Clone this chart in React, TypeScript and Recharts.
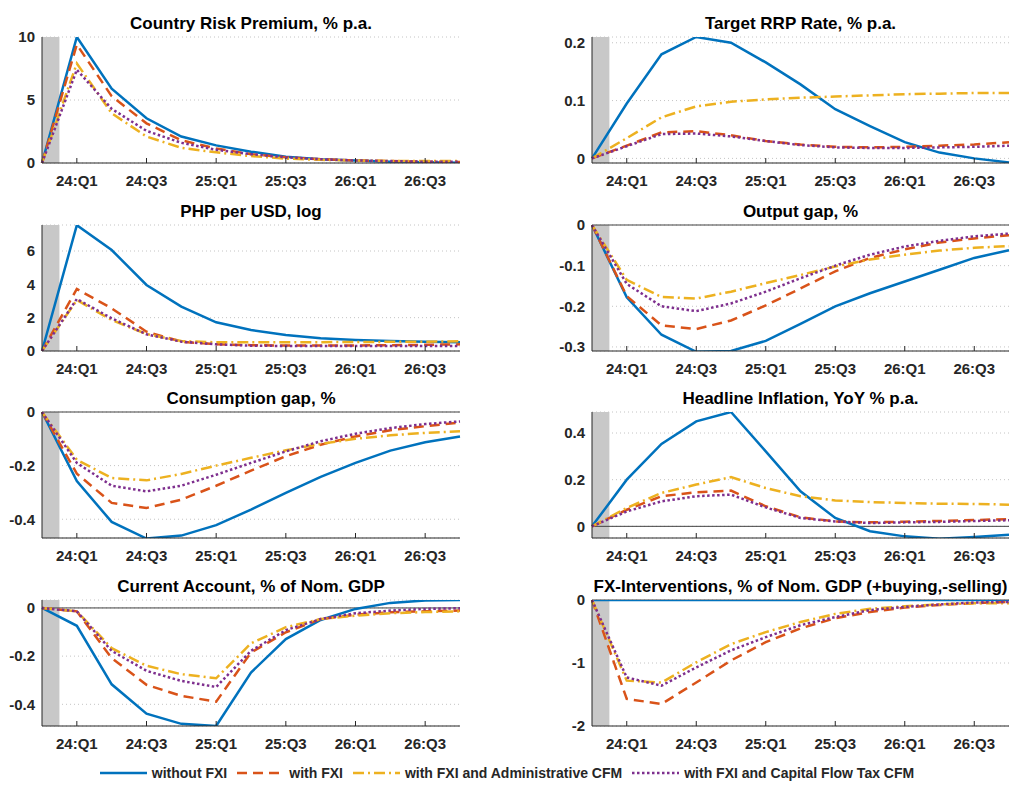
import React from 'react'
import {
  LineChart,
  Line,
  XAxis,
  YAxis,
  CartesianGrid,
  ReferenceArea,
  ReferenceLine,
} from 'recharts'

const quarters = ['23:Q4', '24:Q1', '24:Q2', '24:Q3', '24:Q4', '25:Q1', '25:Q2', '25:Q3', '25:Q4', '26:Q1', '26:Q2', '26:Q3', '26:Q4']
const tickLabels = ['24:Q1', '24:Q3', '25:Q1', '25:Q3', '26:Q1', '26:Q3']
const seriesNames = ['without FXI', 'with FXI', 'with FXI and Administrative CFM', 'with FXI and Capital Flow Tax CFM']

// Country Risk Premium, % p.a.
const riskNoFxi = [0, 10, 5.9, 3.55, 2.1, 1.4, 0.9, 0.5, 0.3, 0.2, 0.1, 0.05, 0.02]
const riskFxi = [0, 9.4, 5.3, 3.15, 1.8, 1.15, 0.7, 0.45, 0.3, 0.2, 0.15, 0.1, 0.08]
const riskAdm = [0, 7.9, 3.95, 2.1, 1.2, 0.85, 0.55, 0.35, 0.25, 0.2, 0.15, 0.15, 0.15]
const riskTax = [0, 7.4, 4.3, 2.55, 1.6, 1.05, 0.7, 0.45, 0.3, 0.2, 0.15, 0.1, 0.1]

// Target RRP Rate, % p.a.
const rrpNoFxi = [0, 0.095, 0.18, 0.21, 0.2, 0.166, 0.128, 0.085, 0.056, 0.028, 0.01, 0.0, -0.007]
const rrpFxi = [0, 0.022, 0.045, 0.047, 0.04, 0.03, 0.024, 0.02, 0.019, 0.02, 0.022, 0.024, 0.028]
const rrpAdm = [0, 0.035, 0.071, 0.09, 0.098, 0.102, 0.105, 0.107, 0.109, 0.111, 0.112, 0.113, 0.113]
const rrpTax = [0, 0.021, 0.042, 0.043, 0.038, 0.03, 0.023, 0.019, 0.018, 0.018, 0.019, 0.02, 0.022]

// PHP per USD, log
const phpNoFxi = [0, 7.55, 6.06, 3.96, 2.66, 1.72, 1.26, 0.96, 0.76, 0.66, 0.6, 0.56, 0.52]
const phpFxi = [0, 3.72, 2.56, 1.16, 0.56, 0.4, 0.35, 0.33, 0.33, 0.33, 0.35, 0.37, 0.4]
const phpAdm = [0, 3.06, 1.86, 1.02, 0.6, 0.52, 0.52, 0.52, 0.53, 0.54, 0.55, 0.56, 0.58]
const phpTax = [0, 3.12, 1.96, 1.0, 0.56, 0.4, 0.32, 0.3, 0.3, 0.3, 0.3, 0.3, 0.3]

// Output gap, %
const ygapNoFxi = [0, -0.178, -0.27, -0.312, -0.31, -0.285, -0.243, -0.2, -0.168, -0.139, -0.11, -0.081, -0.062]
const ygapFxi = [0, -0.175, -0.247, -0.256, -0.235, -0.198, -0.156, -0.114, -0.081, -0.06, -0.043, -0.033, -0.025]
const ygapAdm = [0, -0.135, -0.177, -0.181, -0.164, -0.143, -0.123, -0.102, -0.085, -0.073, -0.063, -0.056, -0.052]
const ygapTax = [0, -0.145, -0.2, -0.212, -0.193, -0.164, -0.131, -0.1, -0.073, -0.053, -0.039, -0.028, -0.021]

// Consumption gap, %
const cgapNoFxi = [0, -0.258, -0.41, -0.472, -0.461, -0.422, -0.364, -0.302, -0.242, -0.19, -0.144, -0.113, -0.091]
const cgapFxi = [0, -0.23, -0.339, -0.358, -0.327, -0.275, -0.219, -0.165, -0.122, -0.091, -0.068, -0.053, -0.039]
const cgapAdm = [0, -0.178, -0.246, -0.255, -0.231, -0.2, -0.171, -0.143, -0.119, -0.1, -0.087, -0.078, -0.072]
const cgapTax = [0, -0.19, -0.275, -0.296, -0.275, -0.234, -0.19, -0.147, -0.109, -0.081, -0.06, -0.045, -0.035]

// Headline Inflation, YoY % p.a.
const inflNoFxi = [0, 0.2, 0.353, 0.45, 0.49, 0.321, 0.15, 0.036, -0.021, -0.043, -0.053, -0.046, -0.036]
const inflFxi = [0, 0.071, 0.129, 0.146, 0.153, 0.086, 0.039, 0.021, 0.017, 0.02, 0.023, 0.027, 0.031]
const inflAdm = [0, 0.079, 0.143, 0.179, 0.211, 0.164, 0.129, 0.111, 0.104, 0.1, 0.097, 0.096, 0.093]
const inflTax = [0, 0.064, 0.107, 0.129, 0.136, 0.081, 0.036, 0.021, 0.014, 0.017, 0.019, 0.023, 0.026]

// Current Account, % of Nom. GDP
const caNoFxi = [0, -0.074, -0.317, -0.439, -0.481, -0.49, -0.268, -0.129, -0.05, -0.004, 0.021, 0.031, 0.033]
const caFxi = [0, -0.014, -0.208, -0.319, -0.365, -0.389, -0.185, -0.101, -0.046, -0.028, -0.018, -0.014, -0.011]
const caAdm = [0, -0.014, -0.167, -0.24, -0.275, -0.292, -0.147, -0.08, -0.046, -0.032, -0.022, -0.017, -0.014]
const caTax = [0, -0.014, -0.178, -0.261, -0.303, -0.328, -0.178, -0.092, -0.046, -0.022, -0.011, -0.004, -0.001]

// FX-Interventions, % of Nom. GDP
const fxiNoFxi = [0, 0, 0, 0, 0, 0, 0, 0, 0, 0, 0, 0, 0]
const fxiFxi = [0, -1.57, -1.65, -1.31, -0.96, -0.67, -0.45, -0.29, -0.19, -0.12, -0.08, -0.05, -0.03]
const fxiAdm = [0, -1.28, -1.31, -0.99, -0.7, -0.51, -0.35, -0.22, -0.14, -0.1, -0.07, -0.05, -0.05]
const fxiTax = [0, -1.23, -1.36, -1.07, -0.8, -0.59, -0.4, -0.27, -0.16, -0.11, -0.07, -0.04, -0.03]

const panels = [
  { title: 'Country Risk Premium, % p.a.', domain: [0, 10], ticks: [0, 5, 10], zero: false, series: [riskNoFxi, riskFxi, riskAdm, riskTax] },
  { title: 'Target RRP Rate, % p.a.', domain: [-0.008, 0.21], ticks: [0, 0.1, 0.2], zero: false, series: [rrpNoFxi, rrpFxi, rrpAdm, rrpTax] },
  { title: 'PHP per USD, log', domain: [0, 7.56], ticks: [0, 2, 4, 6], zero: false, series: [phpNoFxi, phpFxi, phpAdm, phpTax] },
  { title: 'Output gap, %', domain: [-0.31, 0], ticks: [-0.3, -0.2, -0.1, 0], zero: true, series: [ygapNoFxi, ygapFxi, ygapAdm, ygapTax] },
  { title: 'Consumption gap, %', domain: [-0.47, 0], ticks: [-0.4, -0.2, 0], zero: true, series: [cgapNoFxi, cgapFxi, cgapAdm, cgapTax] },
  { title: 'Headline Inflation, YoY % p.a.', domain: [-0.05, 0.49], ticks: [0, 0.2, 0.4], zero: true, series: [inflNoFxi, inflFxi, inflAdm, inflTax] },
  { title: 'Current Account, % of Nom. GDP', domain: [-0.49, 0.033], ticks: [-0.4, -0.2, 0], zero: true, series: [caNoFxi, caFxi, caAdm, caTax] },
  { title: 'FX-Interventions, % of Nom. GDP (+buying,-selling)', domain: [-2, 0], ticks: [-2, -1, 0], zero: true, series: [fxiNoFxi, fxiFxi, fxiAdm, fxiTax] },
]

const lineStyles = [
  { color: '#0072BD', dash: undefined },
  { color: '#D95319', dash: '10 6' },
  { color: '#EDB120', dash: '11 4 2 4' },
  { color: '#7E2F8E', dash: '2.5 2.5' },
]

const FONT = '"Liberation Sans", Arial, Helvetica, sans-serif'
const AXIS = '#262626'
const CH = 190

const XTick = (props: any) => {
  const { x, y, payload } = props
  return (
    <g>
      <line x1={x} x2={x} y1={y - 12} y2={y - 17} stroke={AXIS} />
      <text x={x} y={y} dy="0.71em" textAnchor="middle" fontSize={15} fontWeight="bold" fill={AXIS} fontFamily={FONT}>
        {quarters[payload.value]}
      </text>
    </g>
  )
}

function Panel({ panel, left, top, width, mLeft, mRight }: any) {
  const data = quarters.map((q, i) => ({
    i,
    q,
    s0: panel.series[0][i],
    s1: panel.series[1][i],
    s2: panel.series[2][i],
    s3: panel.series[3][i],
  }))
  const yw = 40
  const plotLeft = mLeft + yw
  const plotCenter = plotLeft + (width - plotLeft - mRight) / 2
  return (
    <div style={{ position: 'absolute', left, top, width, height: CH }}>
      <div
        style={{
          position: 'absolute',
          top: 14,
          left: plotCenter,
          transform: 'translateX(-50%)',
          whiteSpace: 'nowrap',
          font: `bold 17px ${FONT}`,
          lineHeight: '20px',
          color: '#000',
        }}
      >
        {panel.title}
      </div>
      <LineChart width={width} height={CH} data={data} margin={{ top: 37, right: mRight, bottom: 0, left: mLeft }}>
        <ReferenceArea x1={0} x2={0.5} fill="#c8c8c8" fillOpacity={1} stroke="none" />
        <CartesianGrid vertical={false} stroke="#c4c4c4" strokeDasharray="1 3" />
        <XAxis
          type="number"
          dataKey="i"
          height={27}
          domain={[0, quarters.length - 1]}
          ticks={tickLabels.map((l) => quarters.indexOf(l))}
          tick={<XTick />}
          tickLine={false}
          tickSize={0}
          tickMargin={12}
          axisLine={{ stroke: AXIS }}
          interval={0}
        />
        <YAxis
          type="number"
          width={yw}
          domain={panel.domain}
          ticks={panel.ticks}
          allowDataOverflow
          tickLine={false}
          tickSize={0}
          tickMargin={7}
          interval={0}
          axisLine={{ stroke: AXIS }}
          tick={{ fontSize: 15, fontWeight: 'bold', fill: AXIS, fontFamily: FONT }}
        />
        {panel.zero && <ReferenceLine y={0} stroke="#404040" strokeWidth={1} />}
        {lineStyles.map((s, k) => (
          <Line
            key={k}
            type="linear"
            dataKey={`s${k}`}
            stroke={s.color}
            strokeWidth={2.5}
            strokeDasharray={s.dash}
            dot={false}
            isAnimationActive={false}
          />
        ))}
      </LineChart>
    </div>
  )
}

export default function App() {
  const rowTops = [0, 188, 375, 563]
  return (
    <div style={{ position: 'absolute', left: 0, top: 0, width: 1014, height: 785, background: '#fff', fontFamily: FONT }}>
      {panels.map((p, idx) => {
        const col = idx % 2
        const row = Math.floor(idx / 2)
        return col === 0 ? (
          <Panel key={idx} panel={p} left={0} top={rowTops[row]} width={480} mLeft={2} mRight={20} />
        ) : (
          <Panel key={idx} panel={p} left={520} top={rowTops[row]} width={494} mLeft={32} mRight={5} />
        )
      })}
      <div
        style={{
          position: 'absolute',
          top: 763,
          left: 0,
          width: 1014,
          height: 20,
          display: 'flex',
          justifyContent: 'center',
          alignItems: 'center',
          gap: 10,
        }}
      >
        {seriesNames.map((name, k) => (
          <div key={k} style={{ display: 'flex', alignItems: 'center' }}>
            <svg width={47} height={10}>
              <line x1={0} x2={47} y1={5} y2={5} stroke={lineStyles[k].color} strokeWidth={2.5} strokeDasharray={lineStyles[k].dash} />
            </svg>
            <span style={{ marginLeft: 5, font: `bold 14px ${FONT}`, color: AXIS }}>{name}</span>
          </div>
        ))}
      </div>
    </div>
  )
}
